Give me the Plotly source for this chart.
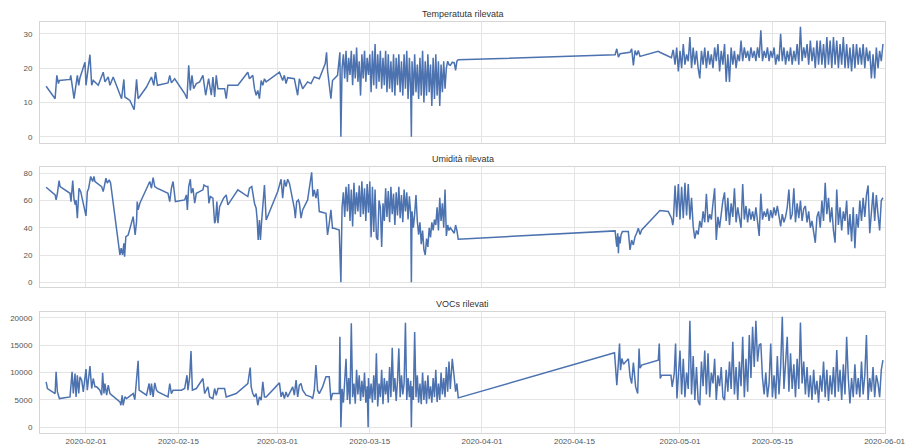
import pandas as pd
import plotly.graph_objects as go
from plotly.subplots import make_subplots

# Day offsets are counted from this timestamp
START = pd.Timestamp("2020-01-25")

# ---------------- Temperature ----------------
temp_days_early = [0.96, 2.32, 2.58, 2.82, 2.97, 4.58, 4.69, 5.19, 5.69, 5.90, 6.09, 6.85, 7.00, 7.60, 7.86,
                   8.10, 8.86, 9.61, 9.87, 10.37, 10.63, 11.12, 12.39, 12.74, 12.89, 13.65, 14.30, 14.66, 14.90,
                   16.17, 16.92, 17.27, 17.53, 17.83, 19.43, 19.69, 19.94, 20.44, 21.95, 22.30, 22.56, 22.81,
                   23.06, 23.31, 23.72, 24.22, 24.72, 25.13, 25.58, 25.99, 26.23, 26.49, 26.74, 26.99, 28.00,
                   28.25, 28.50, 30.01, 31.52, 31.77, 32.27, 32.53, 32.78, 33.03, 33.28, 33.54, 33.79, 34.04,
                   34.30, 36.31, 36.80, 37.06, 37.31, 37.56, 38.57, 39.07, 39.33, 39.83, 40.58, 41.09, 41.59,
                   42.35, 43.25, 43.45, 43.60, 44.11, 44.35, 45.11, 45.47, 45.62]
temp_vals_early = [14.7, 11.1, 17.9, 15.5, 16.4, 16.7, 17.9, 11.1, 17.9, 15.0, 17.2, 21.7, 15.0, 23.9, 15.0,
                   16.4, 15.0, 18.8, 16.0, 17.4, 15.0, 17.4, 11.1, 16.7, 11.6, 10.6, 7.9, 16.7, 11.1,
                   14.5, 17.4, 15.0, 18.8, 15.0, 15.7, 17.9, 15.7, 16.9, 12.6, 11.1, 20.8, 13.5,
                   17.9, 14.0, 15.5, 16.0, 17.9, 12.1, 16.9, 12.1, 17.4, 11.6, 17.9, 14.0, 14.0,
                   11.1, 15.0, 15.0, 18.8, 16.9, 17.9, 14.0, 12.1, 13.5, 11.1, 16.4, 15.0, 16.9,
                   16.0, 18.8, 16.4, 17.9, 15.5, 17.2, 16.9, 12.1, 16.9, 14.0, 16.0, 15.5, 17.4,
                   16.9, 21.3, 24.6, 19.3, 11.1, 16.4, 17.9, 24.6, 0.0]

# March readings, sampled densely (shared by temperature and humidity)
mar_days = [45.8, 46.0, 46.2, 46.4, 46.6, 46.8, 47.0, 47.2, 47.4, 47.6,
            47.8, 48.0, 48.2, 48.4, 48.6, 48.8, 49.0, 49.2, 49.4, 49.6,
            49.8, 50.0, 50.2, 50.4, 50.6, 50.8, 51.0, 51.2, 51.4, 51.6,
            51.8, 52.0, 52.2, 52.4, 52.6, 52.8, 53.0, 53.2, 53.4, 53.6,
            53.8, 54.0, 54.2, 54.4, 54.6, 54.8, 55.0, 55.2, 55.4, 55.6,
            55.8, 56.0, 56.2, 56.3, 56.4, 56.6, 56.8, 57.0, 57.2, 57.4,
            57.6, 57.8, 58.0, 58.2, 58.4, 58.6, 58.8, 59.0, 59.2, 59.4,
            59.6, 59.8, 60.0, 60.2, 60.4, 60.6, 60.8, 61.0, 61.2, 61.4,
            61.6, 61.8, 62.0]
temp_vals_mar = [20, 24, 17, 25, 16, 23, 18, 25, 15, 24,
                 17, 26, 16, 22, 12, 24, 17, 25, 16, 23,
                 18, 24, 13, 25, 15, 27, 14, 24, 16, 25,
                 14, 23, 15, 25, 13, 24, 14, 22, 13, 24,
                 12, 23, 15, 24, 13, 22, 12, 24, 14, 25,
                 11, 23, 13, 0, 22, 12, 24, 13, 21, 11,
                 23, 12, 25, 10, 22, 12, 24, 13, 21, 9,
                 23, 11, 24, 12, 22, 9, 21, 13, 22, 14,
                 20, 22, 21]

tail_days = [62.2, 62.5, 62.8, 63.0, 63.2, 63.4]
temp_vals_tail = [20.8, 21.7, 21.5, 19.3, 22.0, 22.4]

temp_days_apr = [87.17, 87.42, 87.67, 87.92, 89.43, 89.68, 89.94, 90.19, 90.44, 90.69, 90.94, 93.70, 93.95,
                 95.70, 95.95]
temp_vals_apr = [23.9, 25.6, 23.2, 24.2, 24.6, 25.6, 20.8, 25.1, 23.7, 25.1, 23.4, 24.9, 24.6, 23.0, 25.3]

# May readings, sampled densely (shared by all three sensors)
may_days = [96.0, 96.25, 96.5, 96.75, 97.0, 97.25, 97.5, 97.75,
            98.0, 98.25, 98.5, 98.75, 99.0, 99.25, 99.5, 99.75,
            100.0, 100.25, 100.5, 100.75, 101.0, 101.25, 101.5, 101.75,
            102.0, 102.25, 102.5, 102.75, 103.0, 103.25, 103.5, 103.75,
            104.0, 104.25, 104.5, 104.75, 105.0, 105.25, 105.5, 105.75,
            106.0, 106.25, 106.5, 106.75, 107.0, 107.25, 107.5, 107.75,
            108.0, 108.25, 108.5, 108.75, 109.0, 109.25, 109.5, 109.75,
            110.0, 110.25, 110.5, 110.75, 111.0, 111.25, 111.5, 111.75,
            112.0, 112.25, 112.5, 112.75, 113.0, 113.25, 113.5, 113.75,
            114.0, 114.25, 114.5, 114.75, 115.0, 115.25, 115.5, 115.75,
            116.0, 116.25, 116.5, 116.75, 117.0, 117.25, 117.5, 117.75,
            118.0, 118.25, 118.5, 118.75, 119.0, 119.25, 119.5, 119.75,
            120.0, 120.25, 120.5, 120.75, 121.0, 121.25, 121.5, 121.75,
            122.0, 122.25, 122.5, 122.75, 123.0, 123.25, 123.5, 123.75,
            124.0, 124.25, 124.5, 124.75, 125.0, 125.25, 125.5, 125.75,
            126.0, 126.25, 126.5, 126.75, 127.0, 127.25, 127.5, 127.75]
temp_vals_may = [25, 21, 26, 19, 25, 20, 27, 21,
                 24, 22, 29, 20, 26, 21, 25, 20,
                 17, 25, 21, 26, 20, 25, 21, 24,
                 20, 26, 22, 27, 19, 25, 21, 27,
                 16, 24, 16, 26, 21, 25, 20, 24,
                 22, 28, 22, 26, 23, 25, 22, 26,
                 23, 25, 22, 26, 23, 31, 22, 25,
                 23, 26, 22, 25, 23, 26, 21, 24,
                 22, 30, 22, 26, 21, 25, 22, 26,
                 21, 25, 22, 27, 21, 32, 22, 26,
                 23, 27, 21, 28, 22, 26, 20, 28,
                 21, 28, 21, 27, 20, 29, 21, 28,
                 20, 29, 21, 28, 20, 27, 21, 29,
                 20, 27, 20, 26, 19, 27, 20, 27,
                 21, 26, 21, 27, 20, 26, 22, 25,
                 17, 24, 17, 26, 20, 25, 22, 27]

# ---------------- Humidity ----------------
hum_days_early = [0.96, 2.32, 2.47, 2.67, 2.92, 3.07, 4.58, 4.73, 4.99, 5.19, 5.38, 5.49, 5.69, 5.94, 6.20,
                  7.00, 7.20, 7.41, 7.71, 8.01, 8.21, 8.36, 9.37, 9.61, 10.02, 10.22, 10.52, 10.73,
                  12.14, 12.33, 12.54, 12.74, 12.85, 13.04, 13.39, 14.15, 14.45, 14.66, 14.76, 14.90, 15.16,
                  16.41, 16.67, 16.92, 17.17, 17.42, 17.77, 19.43, 19.69, 19.94, 20.19, 20.40, 20.55,
                  21.95, 22.21, 22.36, 22.56, 22.81, 22.96, 23.21, 23.47, 23.72, 24.72, 24.87, 25.23,
                  25.47, 25.62, 25.84, 26.23, 26.49, 26.64, 26.83, 26.99, 27.24, 27.85, 28.25, 28.50,
                  30.01, 31.52, 31.77, 32.12, 32.53, 32.78, 32.94, 33.09, 33.28, 33.43, 33.59, 33.78,
                  34.04, 34.30, 36.05, 36.56, 36.80, 37.06, 37.31, 37.56, 37.82, 38.57, 38.72, 38.92,
                  39.18, 39.33, 39.58, 39.83, 40.58, 41.19, 41.38, 41.59, 41.84, 42.09, 42.35, 43.36,
                  43.60, 43.86, 44.11, 44.35, 44.61, 45.37, 45.62]
hum_vals_early = [69.7, 64.1, 60.4, 65.3, 74.6, 70.2, 65.3, 59.2, 74.6, 60.4, 56.8, 60.4, 47.0, 69.0, 66.5,
                  48.7, 66.5, 69.0, 77.6, 73.9, 77.6, 73.9, 70.2, 66.5, 76.3, 72.7, 75.1, 72.7,
                  20.1, 25.0, 20.1, 28.6, 18.8, 33.5, 34.7, 48.2, 34.7, 44.5, 59.2, 53.1, 58.0,
                  70.2, 73.9, 69.0, 76.8, 70.2, 69.0, 65.3, 59.2, 69.0, 73.9, 65.3, 59.2,
                  60.4, 64.1, 53.1, 70.2, 75.6, 65.3, 69.0, 58.0, 65.3, 67.8, 71.4, 70.2,
                  70.2, 58.0, 62.9, 61.7, 43.3, 45.7, 59.2, 43.3, 55.5, 61.7, 64.1, 56.8,
                  67.8, 62.9, 69.0, 70.2, 58.0, 54.3, 45.7, 31.1, 45.7, 31.1, 43.3, 55.5,
                  71.4, 45.7, 66.5, 75.6, 61.7, 75.1, 70.2, 75.6, 72.7, 54.3, 47.0, 59.2,
                  60.4, 58.0, 47.0, 53.1, 60.4, 80.7, 62.9, 67.8, 61.7, 68.3, 51.9, 50.6,
                  34.7, 43.3, 53.1, 39.6, 39.6, 38.4, 0.0]

hum_vals_mar = [55, 66, 48, 70, 52, 72, 45, 68, 41, 73,
                50, 66, 52, 71, 48, 74, 50, 69, 45, 72,
                51, 74, 33, 70, 37, 68, 33, 31, 60, 55,
                26, 58, 45, 69, 48, 67, 44, 70, 50, 65,
                42, 66, 49, 70, 47, 64, 44, 68, 52, 66,
                46, 63, 50, 0, 52, 40, 50, 64, 45, 35,
                44, 28, 38, 24, 20, 32, 26, 40, 33, 44,
                38, 46, 42, 55, 38, 62, 45, 58, 40, 68,
                34, 42, 38]
hum_vals_tail = [40, 38, 36, 42, 38, 31.6]

hum_days_apr = [87.17, 87.42, 87.57, 87.67, 87.77, 87.92, 88.07, 88.27, 89.17, 89.43, 89.67, 89.93, 90.19,
                90.43, 90.69, 90.95, 91.19, 93.96, 95.22, 95.72, 95.90]
hum_vals_apr = [37.7, 26.2, 36.0, 21.3, 33.5, 28.6, 35.0, 37.2, 37.2, 23.8, 31.0, 27.4, 33.5,
                36.0, 39.6, 35.0, 38.4, 52.6, 51.9, 47.0, 42.0]

hum_vals_may = [45, 71, 48, 72, 46, 70, 47, 73,
                49, 72, 46, 62, 41, 32, 38, 35,
                45, 40, 52, 44, 65, 44, 50, 46,
                58, 69, 31, 48, 40, 52, 60, 66,
                45, 62, 42, 58, 48, 69, 44, 55,
                48, 40, 72, 46, 56, 44, 54, 46,
                52, 45, 55, 46, 34, 65, 46, 52,
                48, 54, 45, 53, 47, 55, 49, 56,
                48, 41, 50, 44, 48, 55, 68, 46,
                50, 69, 44, 58, 47, 60, 45, 54,
                56, 44, 52, 40, 45, 38, 29, 48,
                52, 40, 60, 45, 73, 50, 62, 44,
                55, 38, 29, 68, 42, 55, 38, 52,
                45, 60, 35, 50, 30, 55, 25, 50,
                40, 60, 45, 62, 48, 64, 71, 36,
                55, 66, 45, 64, 50, 38, 60, 62]

# ---------------- VOCs ----------------
voc_days_early = [0.96, 1.16, 2.32, 2.47, 2.67, 2.97, 4.58, 4.69, 4.89, 5.08, 5.34, 5.49, 5.69, 5.90, 6.09,
                  6.35, 6.59, 7.00, 7.20, 7.60, 7.86, 8.10, 8.36, 8.62, 9.11, 9.37, 9.52, 9.72, 9.87,
                  10.13, 10.37, 10.63, 12.14, 12.29, 12.48, 12.63, 12.89, 13.15, 14.15, 14.40, 14.66,
                  14.90, 15.05, 16.17, 16.56, 16.77, 16.92, 17.17, 17.42, 17.68, 17.92, 19.43, 19.69,
                  19.94, 20.19, 21.45, 21.95, 22.30, 22.45, 22.71, 22.91, 23.12, 23.72, 24.72, 24.98,
                  25.23, 25.47, 25.73, 26.23, 26.49, 26.74, 26.99, 28.00, 28.25, 29.76, 31.52, 31.66,
                  31.88, 32.03, 32.27, 32.53, 32.78, 33.03, 33.28, 33.54, 33.79, 34.04, 34.30, 36.31,
                  36.56, 36.80, 37.06, 37.31, 37.56, 38.32, 38.57, 38.83, 39.07, 39.33, 39.58, 39.83,
                  40.34, 41.09, 41.34, 41.59, 41.84, 42.09, 42.35, 42.85, 43.36, 43.86, 44.11, 44.35,
                  45.37, 45.47, 45.62]
voc_vals_early = [8293, 7074, 6159, 10122, 6464, 5244, 5549, 7988, 10122, 6159, 9817, 5549, 9512, 6159, 9207,
                  8598, 6464, 10610, 6769, 11159, 7074, 8903, 7379, 7379, 6769, 5854, 9939, 6159, 7988,
                  5854, 7683, 6159, 4634, 4024, 5854, 4024, 5549, 5244, 6159, 5061, 8293,
                  12134, 6769, 5854, 7988, 5854, 7988, 5549, 8110, 6769, 6464, 5549, 7988,
                  6159, 6769, 6769, 7074, 9512, 6769, 9207, 13903, 6769, 7074, 8903, 6159,
                  6769, 7379, 5549, 5244, 7074, 5854, 7074, 7074, 5549, 6159, 7988, 9207,
                  10915, 7379, 6159, 5549, 6159, 4024, 5549, 4939, 8293, 5549, 5549, 8110,
                  5549, 6464, 5244, 6464, 5549, 7379, 5854, 8598, 5549, 7683, 7988, 6769,
                  5854, 5549, 5244, 6769, 11342, 6769, 6159, 7379, 9207, 9207, 4939, 6159,
                  6159, 16524, 0]

voc_days_mar = [45.8, 46.0, 46.2, 46.4, 46.6, 46.8, 47.0, 47.2, 47.4, 47.6,
                47.8, 48.0, 48.2, 48.4, 48.6, 48.8, 49.0, 49.2, 49.4, 49.6,
                49.75, 49.8, 50.0, 50.2, 50.4, 50.6, 50.8, 51.0, 51.2, 51.4,
                51.6, 51.8, 52.0, 52.2, 52.4, 52.6, 52.8, 53.0, 53.2, 53.4,
                53.6, 53.8, 54.0, 54.2, 54.4, 54.6, 54.8, 55.0, 55.2, 55.4,
                55.6, 55.8, 56.0, 56.2, 56.3, 56.4, 56.6, 56.8, 57.0, 57.2,
                57.4, 57.6, 57.8, 58.0, 58.2, 58.4, 58.6, 58.8, 59.0, 59.2,
                59.4, 59.6, 59.8, 60.0, 60.2, 60.4, 60.6, 60.8, 61.0, 61.2,
                61.4, 61.6, 61.8, 62.0]
voc_vals_mar = [7000, 4500, 8500, 12500, 5000, 9000, 4200, 19000, 5500, 8000,
                4300, 10500, 6000, 9500, 4800, 8500, 5500, 10000, 4500, 7500,
                0, 9000, 5200, 8000, 4500, 9500, 5000, 13500, 3800, 8000,
                5500, 10500, 4200, 9000, 6000, 8500, 4500, 11000, 5500, 14500,
                6500, 9000, 4800, 8500, 14400, 5500, 9500, 6000, 8000, 19100,
                5000, 9000, 5500, 8500, 0, 7500, 5000, 17400, 5500, 9500,
                4500, 8000, 4200, 10000, 5000, 8500, 4300, 9500, 5200, 7500,
                4500, 9000, 5500, 10500, 4600, 8000, 5000, 10000, 6000, 9000,
                5500, 11000, 6500, 12000]
voc_vals_tail = [7000, 12500, 9000, 6500, 8000, 5366]

voc_days_apr = [87.08, 87.28, 87.43, 87.69, 87.84, 87.99, 88.19, 88.44, 88.94, 89.18, 89.44, 89.68, 89.94,
                90.09, 90.28, 90.59, 90.80, 90.95, 91.19, 93.71, 93.86, 94.01, 94.21, 95.63, 95.82, 96.13,
                96.33, 96.54]
voc_vals_apr = [13598, 8903, 7683, 12256, 15305, 10427, 12561, 11500, 12256, 12500, 9207, 7988, 11800,
                10122, 7379, 6159, 14391, 10800, 11342, 12256, 15305, 8900, 9512, 9512, 7379, 9800,
                15305, 5244]

voc_vals_may = [9000,
                14000, 6000, 12500, 5500, 10000, 7000, 19450, 6000,
                13000, 5000, 11000, 4800, 4024, 12000, 7500, 14000,
                6000, 13500, 5500, 10000, 8000, 12500, 5000, 9500,
                7500, 11000, 5500, 4939, 10500, 6500, 12000, 7000,
                15610, 6000, 11000, 5000, 12000, 7500, 16524, 5500,
                12500, 6500, 16830, 9000, 18355, 11000, 19450, 12000,
                15000, 15305, 9000, 6000, 10000, 5500, 8000, 15305,
                5500, 9500, 5200, 13000, 6000, 11000, 20183, 7000,
                12000, 16524, 6500, 13500, 7000, 11500, 5500, 12500,
                7000, 19146, 8000, 12000, 6000, 11000, 5500, 9500,
                5000, 10500, 6000, 8500, 4500, 9500, 6500, 12000,
                5500, 10500, 4800, 9500, 6000, 11000, 5500, 14085,
                6500, 10500, 5000, 11500, 6000, 16524, 9000, 4329,
                9000, 5500, 11500, 6000, 9000, 5500, 12000, 6000,
                9500, 16830, 5000, 9000, 6500, 11000, 5500, 9500,
                8000, 5500, 10500, 12256]

# Axis ticks
date_ticks = ["2020-02-01", "2020-02-15", "2020-03-01", "2020-03-15", "2020-04-01",
              "2020-04-15", "2020-05-01", "2020-05-15", "2020-06-01"]
temp_ticks = [0, 10, 20, 30]
hum_ticks = [0, 20, 40, 60, 80]
voc_ticks = [0, 5000, 10000, 15000, 20000]
titles = ["Temperatuta rilevata", "Umidità rilevata", "VOCs rilevati"]


def to_time(days):
    return START + pd.to_timedelta(pd.Series(days, dtype=float), unit="D")


series = [
    (temp_days_early + mar_days + tail_days + temp_days_apr + may_days,
     temp_vals_early + temp_vals_mar + temp_vals_tail + temp_vals_apr + temp_vals_may),
    (hum_days_early + mar_days + tail_days + hum_days_apr + may_days,
     hum_vals_early + hum_vals_mar + hum_vals_tail + hum_vals_apr + hum_vals_may),
    (voc_days_early + voc_days_mar + tail_days + voc_days_apr + may_days[3:],
     voc_vals_early + voc_vals_mar + voc_vals_tail + voc_vals_apr + voc_vals_may),
]

LINE = "#4c72b0"
GRID = "#e4e4e4"
EDGE = "#d6d6d6"
FONT = "Liberation Sans, Arial, sans-serif"

fig = make_subplots(rows=3, cols=1, shared_xaxes=True)
for i, (d, v) in enumerate(series, start=1):
    fig.add_trace(go.Scatter(x=to_time(d), y=v, mode="lines",
                             line=dict(color=LINE, width=1.5), hoverinfo="x+y"),
                  row=i, col=1)

domains = [[0.7063, 1.0], [0.356, 0.648], [0.0, 0.2951]]
y_ranges = [[-1.7, 33.4], [-3.2, 84.8], [-1043, 21098]]
y_ticks = [temp_ticks, hum_ticks, voc_ticks]
for i in range(3):
    fig.update_yaxes(domain=domains[i], range=y_ranges[i], tickvals=y_ticks[i],
                     ticktext=[str(t) for t in y_ticks[i]],
                     showgrid=True, gridcolor=GRID, gridwidth=1, zeroline=False,
                     showline=True, linecolor=EDGE, linewidth=1, mirror=True,
                     ticks="", ticklabelstandoff=5,
                     tickfont=dict(size=8, color="#555555", family=FONT),
                     row=i + 1, col=1)

fig.update_xaxes(type="date", range=["2020-01-25 00:45", "2020-06-01 01:30"],
                 tickvals=date_ticks, ticktext=date_ticks,
                 showgrid=True, gridcolor=GRID, gridwidth=1, zeroline=False,
                 showline=True, linecolor=EDGE, linewidth=1, mirror=True,
                 ticks="", ticklabelstandoff=0, automargin=False,
                 tickfont=dict(size=8, color="#555555", family=FONT))

title_y = [1.0195, 0.6667, 0.3139]
for t, y in zip(titles, title_y):
    fig.add_annotation(text=t, x=0.5, y=y, xref="paper", yref="paper",
                       xanchor="center", yanchor="middle", showarrow=False,
                       font=dict(size=9, color="#333333", family=FONT))

fig.update_layout(width=906, height=446,
                  margin=dict(l=40, r=21, t=22, b=13, autoexpand=False),
                  plot_bgcolor="white", paper_bgcolor="white",
                  showlegend=False, font=dict(family=FONT))

fig.write_html("out.html")
